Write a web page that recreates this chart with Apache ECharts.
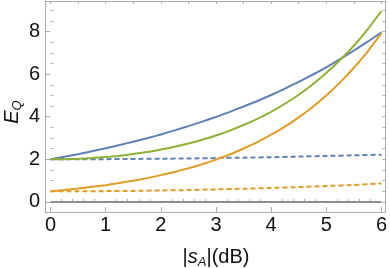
<!DOCTYPE html>
<html>
<head>
<meta charset="utf-8">
<script src="https://cdn.jsdelivr.net/npm/echarts@6/dist/echarts.min.js"></script>
<style>
html,body{margin:0;padding:0;background:#fff;}
#c{width:390px;height:268px;}
</style>
</head>
<body>
<div id="c"></div>
<script>
// ---- data ----
var sFine = [0, 0.25, 0.5, 0.75, 1, 1.25, 1.5, 1.75, 2, 2.25, 2.5, 2.75, 3, 3.25, 3.5, 3.75, 4, 4.25, 4.5, 4.75, 5, 5.25, 5.5, 5.75, 6];
var blueSolid   = [2.00, 2.12, 2.24, 2.38, 2.52, 2.67, 2.83, 2.99, 3.17, 3.36, 3.56, 3.77, 3.99, 4.23, 4.48, 4.74, 5.02, 5.32, 5.64, 5.97, 6.32, 6.70, 7.10, 7.52, 7.96];
var greenSolid  = [2.00, 2.01, 2.03, 2.06, 2.11, 2.17, 2.25, 2.34, 2.46, 2.59, 2.74, 2.92, 3.12, 3.35, 3.61, 3.90, 4.23, 4.61, 5.03, 5.51, 6.05, 6.66, 7.33, 8.10, 8.96];
var orangeSolid = [0.50, 0.56, 0.63, 0.71, 0.79, 0.89, 1.00, 1.12, 1.26, 1.41, 1.58, 1.77, 1.99, 2.23, 2.51, 2.81, 3.16, 3.54, 3.97, 4.46, 5.00, 5.61, 6.30, 7.06, 7.92];
var sCoarse = [0, 0.5, 1, 1.5, 2, 2.5, 3, 3.5, 4, 4.5, 5, 5.5, 6];
var blueDashed  = [2.00, 2.00, 2.01, 2.02, 2.03, 2.04, 2.06, 2.08, 2.10, 2.13, 2.16, 2.19, 2.22];
var orangeDashed= [0.50, 0.50, 0.51, 0.52, 0.54, 0.56, 0.59, 0.62, 0.66, 0.70, 0.75, 0.80, 0.87];
var grayZero    = [0, 0, 0, 0, 0, 0, 0, 0, 0, 0, 0, 0, 0];

var xTickLabels = [0, 1, 2, 3, 4, 5, 6];
var yTickLabels = [0, 2, 4, 6, 8];
var xMinorTicks = [];
for (var i = 0; i <= 30; i++) { if (i % 5 !== 0) xMinorTicks.push(Math.round(i * 0.2 * 10) / 10); }
var yMinorTicks = [];
for (var j = 0; j <= 18; j++) { if (j % 4 !== 0) yMinorTicks.push(j * 0.5); }
var halfTicksX = [];
for (var k = 0; k <= 12; k++) halfTicksX.push(k * 0.5);
var halfTicksY = [];
for (var m = 0; m <= 18; m++) halfTicksY.push(m * 0.5);

function pairs(xs, ys) { return xs.map(function (x, i) { return [x, ys[i]]; }); }

var FRAME = '#ababab';
var XMIN = -0.1, XMAX = 6.07, YMIN = -0.47, YMAX = 9.43;
var FONT = 'Liberation Sans, Arial, sans-serif';

function xAx(extra) {
  var base = {type: 'value', min: XMIN, max: XMAX, splitLine: {show: false},
    axisLine: {show: false}, axisLabel: {show: false}, axisTick: {show: false}};
  return Object.assign(base, extra);
}
function yAx(extra) {
  var base = {type: 'value', min: YMIN, max: YMAX, splitLine: {show: false},
    axisLine: {show: false}, axisLabel: {show: false}, axisTick: {show: false}};
  return Object.assign(base, extra);
}

var chart = echarts.init(document.getElementById('c'), null, {renderer: 'canvas'});
function ser(xs, data, color, dashed, z) {
  return {type: 'line', showSymbol: false, smooth: 0.2, animation: false,
    xAxisIndex: 0, yAxisIndex: 0, data: pairs(xs, data), z: z,
    lineStyle: {color: color, width: 2, type: dashed ? [5, 3] : 'solid'}};
}

chart.setOption({
  animation: false,
  backgroundColor: '#fff',
  grid: {left: 45, right: 4, top: 1, bottom: 56, containLabel: false},
  xAxis: [
    xAx({position: 'bottom',
      axisLine: {show: true, onZero: false, lineStyle: {color: FRAME, width: 1}},
      axisTick: {show: true, inside: true, length: 5, customValues: xTickLabels, lineStyle: {color: FRAME}},
      axisLabel: {show: true, customValues: xTickLabels, margin: 3, fontSize: 20, color: '#111', fontFamily: FONT}}),
    xAx({position: 'bottom',
      axisTick: {show: true, inside: true, length: 3, customValues: xMinorTicks, lineStyle: {color: FRAME}}}),
    xAx({position: 'top',
      axisLine: {show: true, onZero: false, lineStyle: {color: FRAME, width: 1}},
      axisTick: {show: true, inside: true, length: 3, customValues: halfTicksX, lineStyle: {color: FRAME}}})
  ],
  yAxis: [
    yAx({position: 'left',
      axisLine: {show: true, onZero: false, lineStyle: {color: FRAME, width: 1}},
      axisTick: {show: true, inside: true, length: 5, customValues: yTickLabels, lineStyle: {color: FRAME}},
      axisLabel: {show: true, customValues: yTickLabels, margin: 5, fontSize: 20, color: '#111', fontFamily: FONT}}),
    yAx({position: 'left',
      axisTick: {show: true, inside: true, length: 3, customValues: yMinorTicks, lineStyle: {color: FRAME}}}),
    yAx({position: 'right',
      axisLine: {show: true, onZero: false, lineStyle: {color: FRAME, width: 1}},
      axisTick: {show: true, inside: true, length: 3, customValues: halfTicksY, lineStyle: {color: FRAME}}})
  ],
  series: [
    ser(sCoarse, grayZero, '#8f8f8f', false, 2),
    ser(sCoarse, blueDashed, '#5E81B5', true, 3),
    ser(sCoarse, orangeDashed, '#E19C24', true, 3),
    ser(sFine, blueSolid, '#5E81B5', false, 4),
    ser(sFine, orangeSolid, '#E19C24', false, 4),
    ser(sFine, greenSolid, '#8FB032', false, 5)
  ],
  graphic: [
    {type: 'text', x: 216, y: 257, z: 10,
      style: {text: '{n||}{i|s}{s|A}{n||(dB)}', align: 'center', verticalAlign: 'middle',
        rich: {
          n: {fontSize: 20, fontFamily: FONT, fill: '#111', lineHeight: 24},
          i: {fontSize: 20, fontFamily: FONT, fontStyle: 'italic', fill: '#111', lineHeight: 24},
          s: {fontSize: 13, fontFamily: FONT, fontStyle: 'italic', fill: '#111', verticalAlign: 'bottom', lineHeight: 13}
        }}},
    {type: 'text', x: 12, y: 112, rotation: Math.PI / 2, z: 10,
      style: {text: '{i|E}{s|Q}', align: 'center', verticalAlign: 'middle',
        rich: {
          i: {fontSize: 20, fontFamily: FONT, fontStyle: 'italic', fill: '#111', lineHeight: 24},
          s: {fontSize: 13, fontFamily: FONT, fontStyle: 'italic', fill: '#111', verticalAlign: 'bottom', lineHeight: 13}
        }}}
  ]
});
</script>
</body>
</html>
